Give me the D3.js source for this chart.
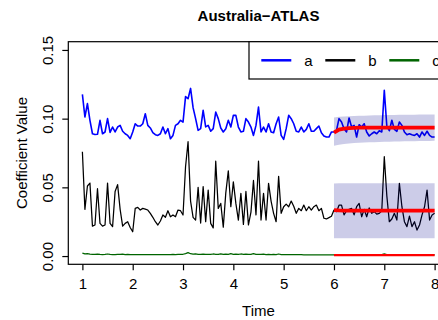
<!DOCTYPE html>
<html>
<head>
<meta charset="utf-8">
<script src="https://cdn.jsdelivr.net/npm/d3@7"></script>
<style>
	body { margin: 0; background: #fff; }
	text { font-family: "Liberation Sans", Arial, Helvetica, sans-serif; }
</style>
</head>
<body>
<svg id="chart" width="438" height="320"></svg>
<script>
// series sampled every 0.05 time units from t = 1
var start = 1, step = 0.05;

var seriesA = [
	0.1177, 0.1012, 0.1110, 0.0988, 0.0890, 0.0885, 0.0886, 0.0988, 0.0890, 0.0903,
	0.1000, 0.0900, 0.0939, 0.0903, 0.0939, 0.0951, 0.0908, 0.0890, 0.0878, 0.0854,
	0.0903, 0.0963, 0.0946, 0.0946, 0.0963, 0.1036, 0.0951, 0.0932, 0.0898, 0.0883,
	0.0878, 0.0890, 0.0939, 0.0890, 0.0927, 0.0854, 0.0878, 0.0951, 0.0963, 0.0988,
	0.0975, 0.1160, 0.1145, 0.1220, 0.1080, 0.1000, 0.0915, 0.0927, 0.1060, 0.0940,
	0.0951, 0.0908, 0.0927, 0.1048, 0.1000, 0.0932, 0.0903, 0.0927, 0.0988, 0.0939,
	0.1024, 0.1024, 0.0939, 0.0903, 0.0908, 0.1000, 0.0975, 0.0939, 0.0878, 0.0951,
	0.1084, 0.0903, 0.0939, 0.0903, 0.0963, 0.0903, 0.0898, 0.0963, 0.1012, 0.0878,
	0.0849, 0.0927, 0.1024, 0.1000, 0.0963, 0.0908, 0.0903, 0.0939, 0.0903, 0.0922,
	0.0963, 0.0908, 0.0908, 0.0927, 0.0946, 0.0898, 0.0874, 0.0866, 0.0866, 0.0903,
	0.0903, 0.0915, 0.1000, 0.0975, 0.0927, 0.0903, 0.1005, 0.0939, 0.0951, 0.0866,
	0.0956, 0.0939, 0.0963, 0.0903, 0.0874, 0.0890, 0.0903, 0.0890, 0.0912, 0.0903,
	0.1206, 0.0946, 0.0912, 0.0988, 0.0922, 0.0908, 0.0975, 0.0951, 0.0903, 0.0883,
	0.0890, 0.0883, 0.0878, 0.0890, 0.0866, 0.0903, 0.0878, 0.0908, 0.0878, 0.0866,
	0.0866
];

var seriesB = [
	0.0759, 0.0340, 0.0510, 0.0531, 0.0218, 0.0226, 0.0490, 0.0238, 0.0218, 0.0226,
	0.0531, 0.0238, 0.0214, 0.0470, 0.0520, 0.0340, 0.0218, 0.0238, 0.0250, 0.0208,
	0.0177, 0.0347, 0.0354, 0.0335, 0.0347, 0.0342, 0.0335, 0.0311, 0.0282, 0.0250,
	0.0226, 0.0255, 0.0299, 0.0282, 0.0330, 0.0286, 0.0299, 0.0286, 0.0335, 0.0330,
	0.0299, 0.0650, 0.0832, 0.0400, 0.0282, 0.0262, 0.0500, 0.0240, 0.0505, 0.0250,
	0.0480, 0.0238, 0.0205, 0.0690, 0.0347, 0.0383, 0.0210, 0.0460, 0.0620, 0.0359,
	0.0540, 0.0383, 0.0262, 0.0456, 0.0230, 0.0470, 0.0226, 0.0320, 0.0550, 0.0300,
	0.0690, 0.0262, 0.0456, 0.0262, 0.0529, 0.0400, 0.0311, 0.0250, 0.0580, 0.0311,
	0.0359, 0.0378, 0.0359, 0.0400, 0.0362, 0.0311, 0.0347, 0.0330, 0.0371, 0.0330,
	0.0359, 0.0335, 0.0359, 0.0371, 0.0330, 0.0347, 0.0275, 0.0270, 0.0280, 0.0290,
	0.0335, 0.0323, 0.0370, 0.0371, 0.0300, 0.0330, 0.0340, 0.0347, 0.0300, 0.0359,
	0.0383, 0.0286, 0.0340, 0.0286, 0.0350, 0.0311, 0.0323, 0.0305, 0.0311, 0.0330,
	0.0723, 0.0440, 0.0250, 0.0270, 0.0311, 0.0262, 0.0529, 0.0359, 0.0250, 0.0214,
	0.0290, 0.0214, 0.0250, 0.0189, 0.0226, 0.0300, 0.0359, 0.0480, 0.0262, 0.0299,
	0.0311
];

var seriesC = [
	0.0022, 0.0016, 0.0017, 0.0014, 0.0013, 0.0012, 0.0014, 0.0012, 0.0011, 0.0012,
	0.0015, 0.0012, 0.0011, 0.0010, 0.0013, 0.0012, 0.0014, 0.0011, 0.0012, 0.0010,
	0.0010, 0.0011, 0.0010, 0.0010, 0.0011, 0.0011, 0.0010, 0.0010, 0.0010, 0.0010,
	0.0011, 0.0011, 0.0010, 0.0011, 0.0011, 0.0011, 0.0012, 0.0011, 0.0012, 0.0012,
	0.0013, 0.0018, 0.0025, 0.0017, 0.0014, 0.0016, 0.0013, 0.0012, 0.0014, 0.0012,
	0.0013, 0.0012, 0.0015, 0.0013, 0.0012, 0.0016, 0.0013, 0.0014, 0.0013, 0.0017,
	0.0013, 0.0014, 0.0012, 0.0015, 0.0013, 0.0014, 0.0012, 0.0013, 0.0017, 0.0012,
	0.0013, 0.0012, 0.0014, 0.0011, 0.0012, 0.0011, 0.0012, 0.0011, 0.0015, 0.0011,
	0.0011, 0.0010, 0.0011, 0.0010, 0.0010, 0.0010, 0.0010, 0.0010, 0.0009, 0.0009,
	0.0009, 0.0009, 0.0009, 0.0008, 0.0008, 0.0008, 0.0008, 0.0008, 0.0008, 0.0008,
	0.0008, 0.0008, 0.0008, 0.0008, 0.0009, 0.0008, 0.0008, 0.0008, 0.0008, 0.0008,
	0.0008, 0.0008, 0.0008, 0.0008, 0.0008, 0.0008, 0.0008, 0.0008, 0.0008, 0.0010,
	0.0016, 0.0011, 0.0009, 0.0008, 0.0008, 0.0008, 0.0009, 0.0010, 0.0011, 0.0010,
	0.0011, 0.0010, 0.0011, 0.0010, 0.0009, 0.0008, 0.0008, 0.0008, 0.0009, 0.0008,
	0.0008
];

// forecasts, every 0.1 from t = 6
var fcStart = 6, fcStep = 0.1;
var fcA = [0.0898, 0.0920, 0.0928, 0.0931, 0.0933, 0.0934, 0.0934, 0.0934, 0.0934, 0.0934, 0.0934,
	0.0934, 0.0934, 0.0934, 0.0934, 0.0934, 0.0934, 0.0934, 0.0934, 0.0934, 0.0934];
var loA = [0.0803, 0.0810, 0.0815, 0.0819, 0.0822, 0.0824, 0.0826, 0.0828, 0.0829, 0.0830, 0.0831,
	0.0832, 0.0833, 0.0834, 0.0835, 0.0836, 0.0836, 0.0837, 0.0838, 0.0838, 0.0839];
var hiA = [0.1008, 0.1013, 0.1016, 0.1018, 0.1020, 0.1021, 0.1022, 0.1023, 0.1024, 0.1025, 0.1026,
	0.1027, 0.1027, 0.1028, 0.1028, 0.1029, 0.1029, 0.1030, 0.1030, 0.1031, 0.1031];
var fcB = [0.0335, 0.0332, 0.0331, 0.0330, 0.0330, 0.0330, 0.0330, 0.0330, 0.0330, 0.0330, 0.0330,
	0.0330, 0.0330, 0.0330, 0.0330, 0.0330, 0.0330, 0.0330, 0.0330, 0.0330, 0.0330];
var loB = [0.0130, 0.0130, 0.0130, 0.0130, 0.0130, 0.0130, 0.0130, 0.0130, 0.0130, 0.0130, 0.0130,
	0.0130, 0.0130, 0.0130, 0.0130, 0.0130, 0.0130, 0.0130, 0.0130, 0.0130, 0.0130];
var hiB = [0.0528, 0.0529, 0.0530, 0.0530, 0.0530, 0.0530, 0.0530, 0.0530, 0.0530, 0.0530, 0.0530,
	0.0530, 0.0530, 0.0530, 0.0530, 0.0530, 0.0530, 0.0530, 0.0530, 0.0530, 0.0530];
var fcC = [0.0007, 0.0007, 0.0007, 0.0007, 0.0007, 0.0007, 0.0007, 0.0007, 0.0007, 0.0007, 0.0007,
	0.0007, 0.0007, 0.0007, 0.0007, 0.0007, 0.0007, 0.0007, 0.0007, 0.0007, 0.0007];

var xTicks = [1, 2, 3, 4, 5, 6, 7, 8];
var yTicks = [0, 0.05, 0.10, 0.15];
var legendKeys = ['a', 'b', 'c'];
var legendColors = ['#0000ff', '#000000', '#006400'];

// plot box (right side runs past the window, like the original)
var box = {left: 68.3, top: 41.7, right: 448.7, bottom: 264.3};

var svg = d3.select('#chart');
var x = d3.scaleLinear().domain([0.72, 8.28]).range([box.left, box.right]);
var y = d3.scaleLinear().domain([-0.006, 0.156]).range([box.bottom, box.top]);

function seriesLine(vals) {
	return d3.line()
		.x(function(d, i) { return x(start + i * step); })
		.y(function(d) { return y(d); })(vals);
}
function fcLine(vals) {
	return d3.line()
		.x(function(d, i) { return x(fcStart + i * fcStep); })
		.y(function(d) { return y(d); })(vals);
}
function band(lo, hi) {
	return d3.area()
		.x(function(d) { return x(fcStart + d * fcStep); })
		.y0(function(d) { return y(lo[d]); })
		.y1(function(d) { return y(hi[d]); })(d3.range(lo.length));
}

var g = svg.append('g');
// observed series
[[seriesA, legendColors[0], 1.6], [seriesB, legendColors[1], 1.25], [seriesC, legendColors[2], 1.25]]
.forEach(function(s) {
	g.append('path').attr('d', seriesLine(s[0]))
		.attr('fill', 'none').attr('stroke', s[1]).attr('stroke-width', s[2])
		.attr('stroke-linejoin', 'round');
});
// prediction bands on top of the lines
g.append('path').attr('d', band(loA, hiA)).attr('fill', 'rgba(0,0,139,0.2)');
g.append('path').attr('d', band(loB, hiB)).attr('fill', 'rgba(0,0,139,0.2)');
// forecasts
[[fcA, 3.8], [fcB, 3.8], [fcC, 2.2]].forEach(function(f) {
	g.append('path').attr('d', fcLine(f[0]))
		.attr('fill', 'none').attr('stroke', '#ff0000').attr('stroke-width', f[1]);
});

// box
svg.append('rect')
	.attr('x', box.left).attr('y', box.top)
	.attr('width', box.right - box.left).attr('height', box.bottom - box.top)
	.attr('fill', 'none').attr('stroke', '#000').attr('stroke-width', 1.2);

// axes
var yAxis = svg.append('g')
	.attr('transform', 'translate(' + box.left + ',0)')
	.call(d3.axisLeft(y).tickValues(yTicks).tickSize(6).tickFormat(d3.format('.2f')));
yAxis.select('.domain').remove();
yAxis.selectAll('.tick line').attr('stroke-width', 1.2);
yAxis.selectAll('text')
	.attr('x', null).attr('dy', null)
	.attr('text-anchor', 'middle')
	.attr('transform', 'translate(-15.8,0) rotate(-90)')
	.attr('font-size', 15).attr('font-family', null).attr('fill', '#000');

var xAxis = svg.append('g')
	.attr('transform', 'translate(0,' + box.bottom + ')')
	.call(d3.axisBottom(x).tickValues(xTicks).tickSize(6).tickFormat(d3.format('d')));
xAxis.select('.domain').remove();
xAxis.selectAll('.tick line').attr('stroke-width', 1.2);
xAxis.selectAll('text')
	.attr('y', 25.2).attr('dy', null)
	.attr('font-size', 15).attr('font-family', null).attr('fill', '#000');
yAxis.attr('font-family', null);
xAxis.attr('font-family', null);

// titles
var mid = (box.left + box.right) / 2;
svg.append('text').attr('x', mid).attr('y', 20.5)
	.attr('text-anchor', 'middle').attr('font-size', 15).attr('font-weight', 'bold')
	.text('Australia\u2212ATLAS');
svg.append('text').attr('x', mid).attr('y', 315.5)
	.attr('text-anchor', 'middle').attr('font-size', 15).text('Time');
svg.append('text')
	.attr('transform', 'translate(27,' + (box.top + box.bottom) / 2 + ') rotate(-90)')
	.attr('text-anchor', 'middle').attr('font-size', 15).text('Coefficient Value');

// legend
var leg = svg.append('g');
leg.append('rect').attr('x', 249).attr('y', box.top).attr('width', 220).attr('height', 37.3)
	.attr('fill', '#fff').attr('stroke', '#000').attr('stroke-width', 1.2);
legendKeys.forEach(function(k, i) {
	var lx = 261.3 + i * 64;
	leg.append('line').attr('x1', lx).attr('x2', lx + 30).attr('y1', 60.3).attr('y2', 60.3)
		.attr('stroke', legendColors[i]).attr('stroke-width', 2.5);
	leg.append('text').attr('x', lx + 43).attr('y', 65.7).attr('font-size', 15).text(k);
});
</script>
</body>
</html>
